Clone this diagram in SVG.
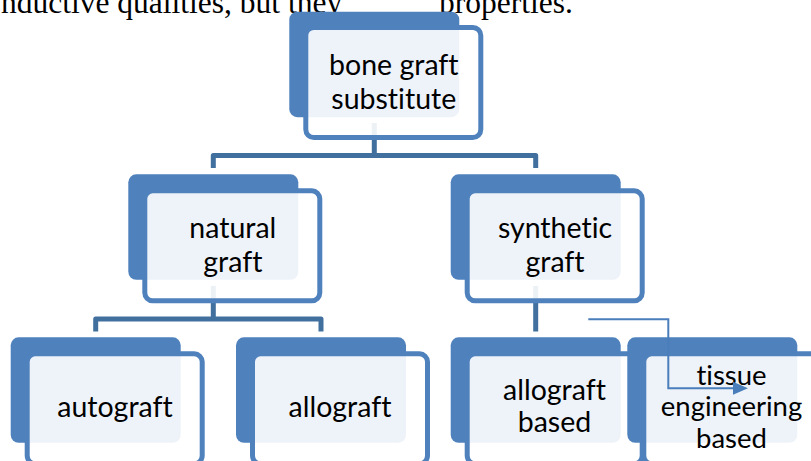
<svg xmlns="http://www.w3.org/2000/svg" width="811" height="461" viewBox="0 0 811 461">
<style>
.bg{fill:#4F81BD}
.fg{fill:#FFFFFF;fill-opacity:0.9;stroke:#4F81BD;stroke-width:5}
.lbl{font-family:Lato,"Open Sans",sans-serif;font-size:28.5px;fill:#000;text-anchor:middle;font-variant-ligatures:none}
.sm{font-size:27.5px}
.conn{fill:none;stroke:#41709F;stroke-width:5;stroke-linejoin:round}
.para{font-family:"Liberation Serif",serif;font-size:31.5px;fill:#000}
</style>
<defs>
<marker id="ah" markerUnits="userSpaceOnUse" markerWidth="16" markerHeight="14" refX="0" refY="6.5" orient="auto">
<path d="M0,0 L15,6.5 L0,13 z" fill="#4A7EBB"/>
</marker>
</defs>
<rect width="811" height="461" fill="#fff"/>
<text class="para" x="1" y="13">nductive qualities, but they</text>
<text class="para" x="439" y="13">properties.</text>
<g id="connectors">
<path class="conn" d="M374.3,123 V155.5 M213.3,168 V155.5 H535.7 V168"/>
<path class="conn" d="M213.3,286 V319 M95.7,331.5 V319 H321 V331.5"/>
<path class="conn" d="M535.7,286 V331.5"/>
</g>
<g id="n-top">
<rect class="bg" x="289.3" y="11.7" width="170" height="105.5" rx="8"/>
<rect class="fg" x="305.8" y="27.5" width="175" height="110" rx="8"/>
<text class="lbl" x="393.8" y="75">bone graft</text>
<text class="lbl" x="393.8" y="109">substitute</text>
</g>
<g id="n-natural">
<rect class="bg" x="128.3" y="174.3" width="170" height="105.5" rx="8"/>
<rect class="fg" x="144.8" y="190.8" width="175" height="110" rx="8"/>
<text class="lbl" x="232.8" y="238.3">natural</text>
<text class="lbl" x="232.8" y="272">graft</text>
</g>
<g id="n-synthetic">
<rect class="bg" x="450.7" y="174.3" width="170" height="105.5" rx="8"/>
<rect class="fg" x="467.2" y="190.8" width="175" height="110" rx="8"/>
<text class="lbl" x="555" y="238.3">synthetic</text>
<text class="lbl" x="555" y="272">graft</text>
</g>
<g id="n-autograft">
<rect class="bg" x="10.7" y="337.3" width="170" height="105.5" rx="8"/>
<rect class="fg" x="27.2" y="353.8" width="175" height="110" rx="8"/>
<text class="lbl" x="115" y="416.7">autograft</text>
</g>
<g id="n-allograft">
<rect class="bg" x="236" y="337.3" width="170" height="105.5" rx="8"/>
<rect class="fg" x="252.5" y="353.8" width="175" height="110" rx="8"/>
<text class="lbl" x="340" y="416.7">allograft</text>
</g>
<g id="n-allograft-based">
<rect class="bg" x="450.7" y="337.3" width="170" height="105.5" rx="8"/>
<rect class="fg" x="467.2" y="353.8" width="175" height="110" rx="8"/>
<text class="lbl" x="554.5" y="400">allograft</text>
<text class="lbl" x="554.5" y="431.7">based</text>
</g>
<g id="n-tissue">
<rect class="bg" x="627.3" y="337.3" width="170" height="105.5" rx="8"/>
<rect class="fg" x="643.8" y="353.8" width="175" height="110" rx="8"/>
<text class="lbl sm" x="731.5" y="384.5">tissue</text>
<text class="lbl sm" x="731.5" y="416">engineering</text>
<text class="lbl sm" x="731.5" y="447.5">based</text>
</g>
<g id="arrow">
<path d="M588.3,319.3 H668.3 V388.3 H733" fill="none" stroke="#4A7EBB" stroke-width="2" marker-end="url(#ah)"/>
</g>
</svg>
